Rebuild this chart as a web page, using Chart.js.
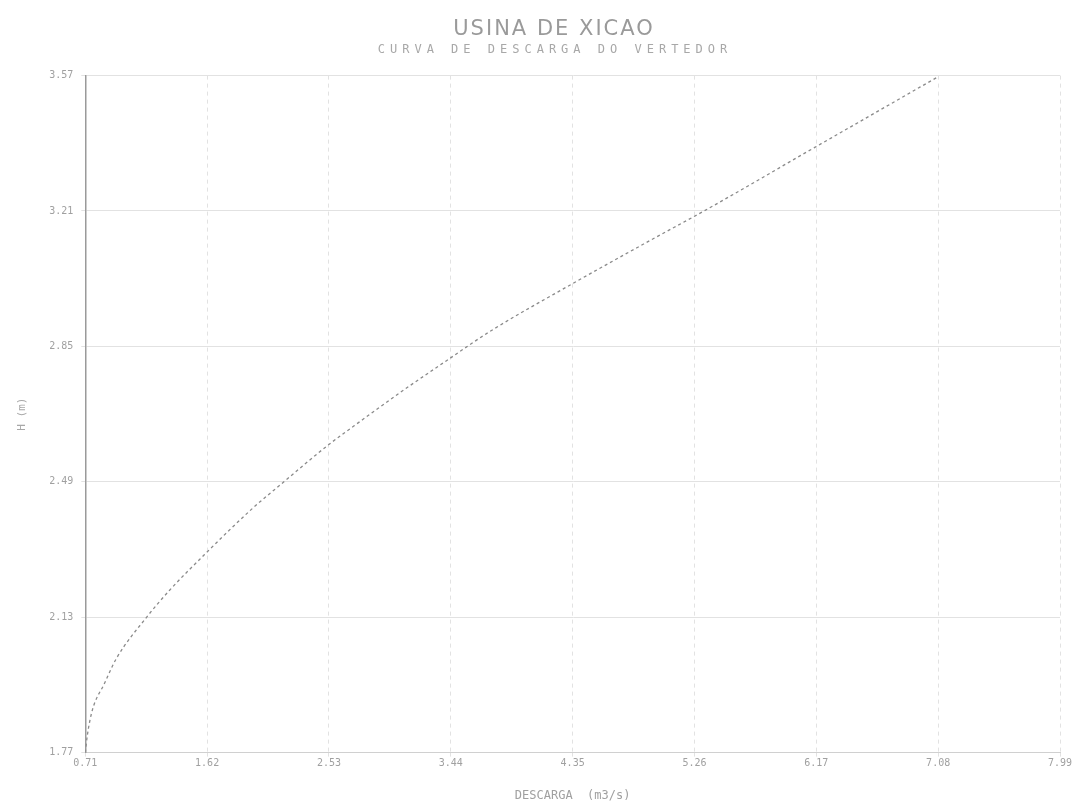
<!DOCTYPE html>
<html>
<head>
<meta charset="utf-8">
<script src="https://cdn.jsdelivr.net/npm/chart.js@4/dist/chart.umd.min.js"></script>
<style>
  html, body { margin: 0; padding: 0; background: #fff; }
  #wrap { width: 1080px; height: 809px; }
</style>
</head>
<body>
<div id="wrap"><canvas id="curva"></canvas></div>
<script>
// curva de descarga
var descarga = [0.710, 0.725, 0.762, 0.852, 0.942, 1.166, 1.338, 1.599, 1.958, 2.160, 2.511, 2.780, 3.072, 3.408, 3.729, 4.335, 4.925, 5.336, 6.158, 7.070];
var altura = [1.770, 1.815, 1.882, 1.953, 2.020, 2.129, 2.201, 2.296, 2.419, 2.480, 2.584, 2.655, 2.730, 2.812, 2.889, 3.014, 3.131, 3.211, 3.379, 3.565];

var xTicks = [0.71, 1.62, 2.53, 3.44, 4.35, 5.26, 6.17, 7.08, 7.99];
var yTicks = [1.77, 2.13, 2.49, 2.85, 3.21, 3.57];

var ctx = document.getElementById('curva');

var pontos = descarga.map(function (q, i) {
    return { x: q, y: altura[i] };
});

// espacamento das letras (o texto original e bem largo) e leve deslocamento
var estiloTitulos = {
    'CURVA DE DESCARGA DO VERTEDOR': { sp: '5px', dx: 19 },
    'USINA DE XICAO': { sp: '2px', dx: 18 }
};

var espacamento = {
    id: 'espacamento',
    afterLayout: function (chart) {
        chart.boxes.forEach(function (box) {
            if (box._espacado || !box.options) return;
            var est = estiloTitulos[box.options.text];
            if (!est) return;
            var orig = box.draw;
            box.draw = function (area) {
                var c = this.ctx;
                c.save();
                c.letterSpacing = est.sp;
                c.translate(est.dx, 0);
                orig.call(this, area);
                c.restore();
            };
            box._espacado = true;
        });
    }
};

var myChart = new Chart(ctx, {
    type: 'line',
    data: {
        datasets: [{
            label: 'Curva',
            data: pontos,
            borderColor: '#8a8a8a',
            borderWidth: 1.3,
            borderDash: [3, 3],
            pointRadius: 0,
            cubicInterpolationMode: 'monotone',
            fill: false
        }]
    },
    options: {
        responsive: true,
        maintainAspectRatio: false,
        animation: false,
        layout: {
            padding: { left: 12, right: 20, top: 10, bottom: 2 }
        },
        scales: {
            x: {
                type: 'linear',
                min: xTicks[0],
                max: xTicks[xTicks.length - 1],
                afterBuildTicks: function (axis) {
                    axis.ticks = xTicks.map(function (v) { return { value: v }; });
                },
                ticks: {
                    autoSkip: false,
                    maxRotation: 0,
                    padding: 1,
                    color: '#a0a0a0',
                    font: { size: 10, family: 'DejaVu Sans Mono' },
                    callback: function (v) { return v.toFixed(2); }
                },
                grid: {
                    color: '#e2e2e2',
                    tickLength: 4,
                    drawTicks: true
                },
                border: { color: '#d0d0d0', dash: [4, 4] },
                title: {
                    display: true,
                    text: 'DESCARGA  (m3/s)',
                    color: '#a0a0a0',
                    font: { size: 12, family: 'DejaVu Sans Mono' },
                    padding: { top: 18 }
                }
            },
            y: {
                min: yTicks[0],
                max: yTicks[yTicks.length - 1],
                afterBuildTicks: function (axis) {
                    axis.ticks = yTicks.map(function (v) { return { value: v }; });
                },
                ticks: {
                    padding: 8,
                    color: '#a0a0a0',
                    font: { size: 10, family: 'DejaVu Sans Mono' },
                    callback: function (v) { return v.toFixed(2); }
                },
                grid: {
                    color: '#e2e2e2',
                    tickLength: 4
                },
                border: { color: '#9a9a9a', width: 1.5 },
                title: {
                    display: true,
                    text: 'H (m)',
                    color: '#a8a8a8',
                    font: { size: 11, family: 'DejaVu Sans Mono' },
                    padding: { bottom: 12 }
                }
            }
        },
        plugins: {
            legend: { display: false },
            tooltip: { enabled: false },
            title: {
                display: true,
                text: 'USINA DE XICAO',
                color: '#9a9a9a',
                font: { size: 21, weight: 'normal', family: 'DejaVu Sans' },
                padding: { top: 7, bottom: 0 }
            },
            subtitle: {
                display: true,
                text: 'CURVA DE DESCARGA DO VERTEDOR',
                color: '#a8a8a8',
                font: { size: 12, family: 'DejaVu Sans Mono' },
                padding: { top: 0, bottom: 19 }
            }
        }
    },
    plugins: [espacamento]
});
</script>
</body>
</html>
